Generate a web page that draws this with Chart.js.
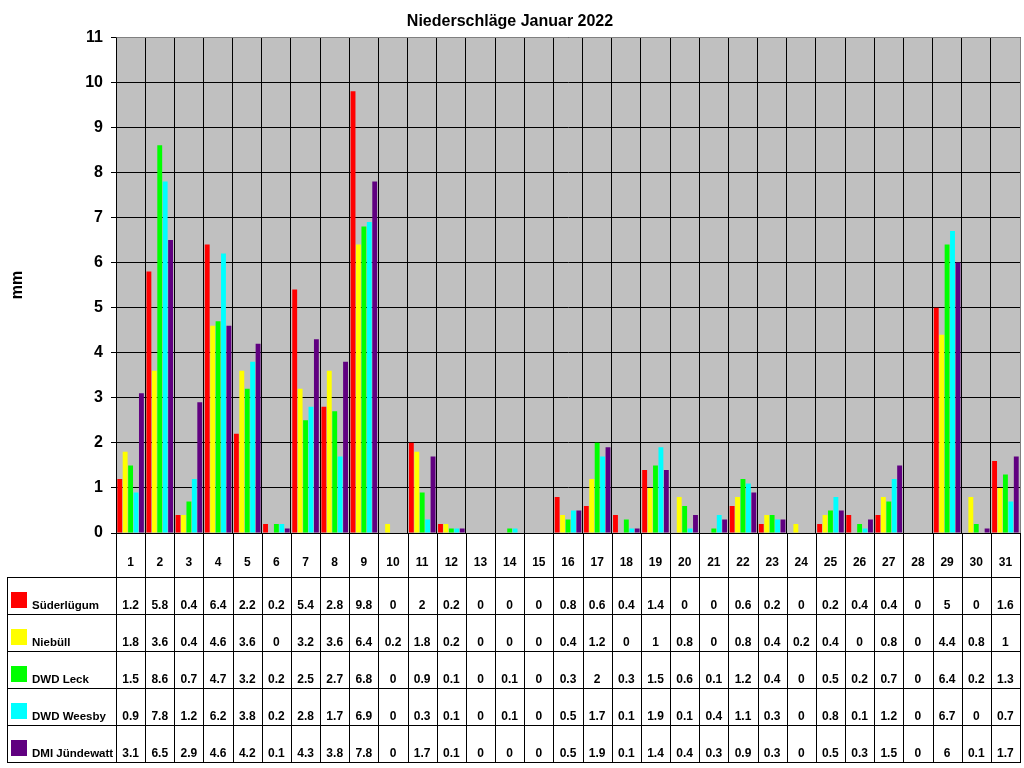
<!DOCTYPE html>
<html>
<head>
<meta charset="utf-8">
<script src="https://cdn.jsdelivr.net/npm/chart.js@4.4.1/dist/chart.umd.min.js"></script>
<style>
  html, body { margin: 0; padding: 0; background: #ffffff; }
  #wrap { width: 1024px; height: 768px; }
</style>
</head>
<body>
<div id="wrap"><canvas id="c" width="1024" height="768"></canvas></div>
<script>
const chartTitle = 'Niederschläge Januar 2022';
const yAxisTitle = 'mm';
const days = ['1','2','3','4','5','6','7','8','9','10','11','12','13','14','15','16','17','18','19','20','21','22','23','24','25','26','27','28','29','30','31'];
const yTicks = [0,1,2,3,4,5,6,7,8,9,10,11];

const seriesNames = ['Süderlügum', 'Niebüll', 'DWD Leck', 'DWD Weesby', 'DMI Jündewatt'];
const seriesColors = ['#ff0000', '#ffff00', '#00ff00', '#00ffff', '#600080'];

const suederluegum = [1.2,5.8,0.4,6.4,2.2,0.2,5.4,2.8,9.8,0,2,0.2,0,0,0,0.8,0.6,0.4,1.4,0,0,0.6,0.2,0,0.2,0.4,0.4,0,5,0,1.6];
const niebuell     = [1.8,3.6,0.4,4.6,3.6,0,3.2,3.6,6.4,0.2,1.8,0.2,0,0,0,0.4,1.2,0,1,0.8,0,0.8,0.4,0.2,0.4,0,0.8,0,4.4,0.8,1];
const dwdLeck      = [1.5,8.6,0.7,4.7,3.2,0.2,2.5,2.7,6.8,0,0.9,0.1,0,0.1,0,0.3,2,0.3,1.5,0.6,0.1,1.2,0.4,0,0.5,0.2,0.7,0,6.4,0.2,1.3];
const dwdWeesby    = [0.9,7.8,1.2,6.2,3.8,0.2,2.8,1.7,6.9,0,0.3,0.1,0,0.1,0,0.5,1.7,0.1,1.9,0.1,0.4,1.1,0.3,0,0.8,0.1,1.2,0,6.7,0,0.7];
const dmiJuendewatt= [3.1,6.5,2.9,4.6,4.2,0.1,4.3,3.8,7.8,0,1.7,0.1,0,0,0,0.5,1.9,0.1,1.4,0.4,0.3,0.9,0.3,0,0.5,0.3,1.5,0,6,0.1,1.7];

const seriesValues = [suederluegum, niebuell, dwdLeck, dwdWeesby, dmiJuendewatt];

const FONT = '"Liberation Sans", Arial, sans-serif';

const bgPlugin = {
  id: 'bg',
  beforeDraw(chart) {
    const { ctx, chartArea: a } = chart;
    ctx.save();
    ctx.fillStyle = '#ffffff';
    ctx.fillRect(0, 0, chart.width, chart.height);
    ctx.fillStyle = '#c0c0c0';
    ctx.fillRect(a.left, a.top, a.right - a.left, a.bottom - a.top);
    ctx.restore();
  }
};

const tablePlugin = {
  id: 'dataTable',
  afterDraw(chart) {
    const { ctx, chartArea: a } = chart;
    const xs = chart.scales.x;
    const half = (xs.getPixelForValue(1) - xs.getPixelForValue(0)) / 2;
    const tableTop = 577, rowH = 37, tableLeft = 7;
    const tableBottom = tableTop + rowH * seriesNames.length;
    const r = v => Math.round(v) + 0.5;
    ctx.save();
    ctx.strokeStyle = '#808080';
    ctx.lineWidth = 1;
    ctx.beginPath();
    ctx.moveTo(r(a.left), r(a.top)); ctx.lineTo(r(a.right), r(a.top));
    ctx.lineTo(r(a.right), r(a.bottom));
    ctx.stroke();

    ctx.strokeStyle = '#000000';
    ctx.beginPath();
    for (let i = 0; i <= days.length; i++) {
      const x = i < days.length ? xs.getPixelForValue(i) - half : xs.getPixelForValue(days.length - 1) + half;
      ctx.moveTo(r(x), a.bottom);
      ctx.lineTo(r(x), tableBottom + 1);
    }
    for (let k = 0; k <= seriesNames.length; k++) {
      const y = tableTop + k * rowH;
      ctx.moveTo(tableLeft, r(y));
      ctx.lineTo(r(a.right) + 0.5, r(y));
    }
    ctx.moveTo(r(tableLeft), tableTop);
    ctx.lineTo(r(tableLeft), tableBottom + 1);
    ctx.stroke();

    ctx.fillStyle = '#000000';
    ctx.textBaseline = 'middle';
    for (let s = 0; s < seriesNames.length; s++) {
      const rowBottom = tableTop + (s + 1) * rowH;
      const ty = rowBottom - 8;
      ctx.fillStyle = seriesColors[s];
      ctx.fillRect(11, tableTop + s * rowH + 15, 16, 16);
      ctx.fillStyle = '#000000';
      ctx.textAlign = 'left';
      ctx.font = 'bold 11.5px ' + FONT;
      ctx.fillText(seriesNames[s], 32, ty);
      ctx.font = 'bold 12px ' + FONT;
      ctx.textAlign = 'center';
      const vals = seriesValues[s];
      for (let i = 0; i < vals.length; i++) {
        ctx.fillText(String(vals[i]), xs.getPixelForValue(i), ty);
      }
    }
    ctx.restore();
  }
};

const datasets = seriesNames.map((name, i) => ({
  label: name,
  data: seriesValues[i],
  backgroundColor: seriesColors[i],
  borderWidth: 0,
  categoryPercentage: 0.93,
  barPercentage: 0.9
}));

new Chart(document.getElementById('c'), {
  type: 'bar',
  data: { labels: days, datasets },
  options: {
    responsive: false,
    devicePixelRatio: 1,
    animation: false,
    layout: { padding: { left: 0, right: 4, top: 0, bottom: 0 } },
    plugins: {
      legend: { display: false },
      tooltip: { enabled: false },
      title: {
        display: true,
        text: chartTitle,
        color: '#000000',
        font: { family: FONT, size: 16, weight: 'bold' },
        padding: { top: 12, bottom: 6 }
      }
    },
    scales: {
      x: {
        grid: { display: true, color: '#000000', lineWidth: 1, drawTicks: false, offset: true },
        border: { display: true, color: '#000000' },
        ticks: {
          color: '#000000',
          font: { family: FONT, size: 12, weight: 'bold' },
          padding: 22,
          maxRotation: 0,
          autoSkip: false
        },
        afterFit(s) { s.height = 235; s.paddingLeft = 0; s.paddingRight = 0; }
      },
      y: {
        min: 0,
        max: 11,
        afterBuildTicks(s) { s.ticks = yTicks.map(v => ({ value: v })); },
        grid: { color: '#000000', lineWidth: 1, drawTicks: true, tickLength: 5 },
        border: { display: true, color: '#000000' },
        ticks: {
          color: '#000000',
          font: { family: FONT, size: 16, weight: 'bold' },
          padding: 8
        },
        title: {
          display: true,
          text: yAxisTitle,
          color: '#000000',
          font: { family: FONT, size: 16, weight: 'bold' },
          padding: { top: 8, bottom: 0 }
        },
        afterFit(s) { s.width = 116; }
      }
    }
  },
  plugins: [bgPlugin, tablePlugin]
});
</script>
</body>
</html>
